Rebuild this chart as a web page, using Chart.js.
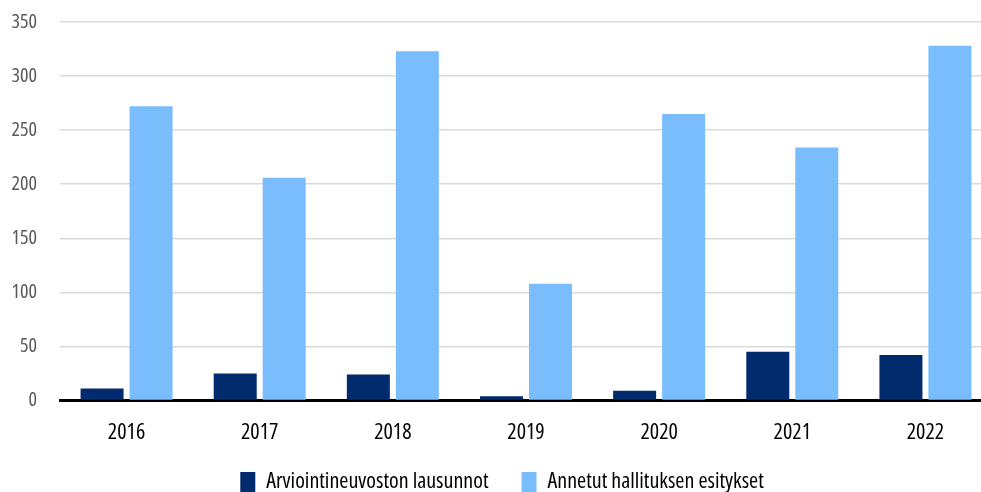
<!DOCTYPE html>
<html>
<head>
<meta charset="utf-8">
<script src="https://cdn.jsdelivr.net/npm/chart.js@4/dist/chart.umd.min.js"></script>
<style>
html,body{margin:0;padding:0;background:#fff;overflow:hidden;}
#wrap{width:992px;height:492px;position:relative;}
</style>
</head>
<body>
<div id="wrap"><canvas id="c"></canvas></div>
<script>
const categories = ["2016","2017","2018","2019","2020","2021","2022"];
const seriesNames = ["Arviointineuvoston lausunnot","Annetut hallituksen esitykset"];
const lausunnot = [11, 25, 24, 4, 9, 45, 42];
const esitykset = [272, 206, 323, 108, 265, 234, 328];
const yTicks = [0, 50, 100, 150, 200, 250, 300, 350];

const FONT = "'Open Sans', sans-serif";
const mkFont = (size) => ({family: FONT, size: size, weight: 'condensed'});

new Chart(document.getElementById('c'), {
  type: 'bar',
  data: {
    labels: categories,
    datasets: [
      {label: seriesNames[0], data: lausunnot, backgroundColor: '#012b6d', barPercentage: 0.878, categoryPercentage: 0.736},
      {label: seriesNames[1], data: esitykset, backgroundColor: '#79bdfd', barPercentage: 0.878, categoryPercentage: 0.736}
    ]
  },
  options: {
    responsive: true,
    maintainAspectRatio: false,
    animation: false,
    devicePixelRatio: 1,
    layout: {padding: {top: 22, right: 0, bottom: 0, left: 12}},
    plugins: {
      legend: {
        position: 'bottom',
        maxHeight: 54,
        labels: {
          font: mkFont(22),
          color: '#000',
          boxWidth: 15,
          boxHeight: 20,
          padding: 33
        }
      },
      tooltip: {enabled: false}
    },
    scales: {
      x: {
        grid: {display: false},
        border: {display: true, color: '#000', width: 3},
        ticks: {font: mkFont(22), color: '#000', padding: 11},
        afterFit: (axis) => { axis.height = 37.5; axis._computeLabelArea = () => undefined; }
      },
      y: {
        min: 0, max: 350,
        afterBuildTicks: (axis) => { axis.ticks = yTicks.map(v => ({value: v})); },
        afterFit: (axis) => { axis.width = 48; axis.paddingTop = 0; axis.paddingBottom = 0; axis._computeLabelArea = () => undefined; },
        grid: {color: '#d9d9d9', lineWidth: 1.5, drawTicks: false},
        border: {display: false},
        ticks: {font: mkFont(20), color: '#595959', padding: 23}
      }
    }
  }
});
</script>
</body>
</html>
